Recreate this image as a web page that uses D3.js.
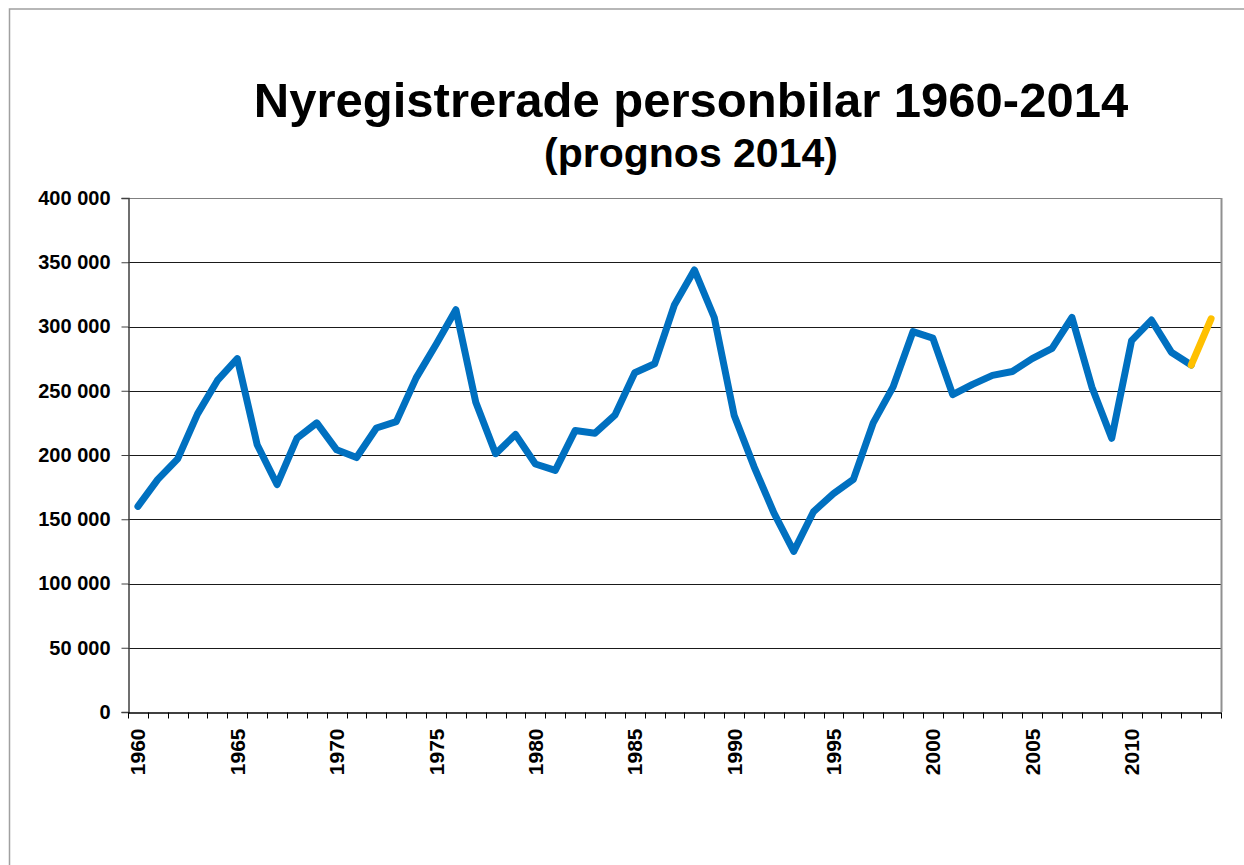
<!DOCTYPE html>
<html>
<head>
<meta charset="utf-8">
<title>Nyregistrerade personbilar 1960-2014</title>
<script src="https://cdn.jsdelivr.net/npm/d3@7"></script>
<style>
	html, body { margin: 0; padding: 0; background: #ffffff; }
	svg { display: block; font-family: "Liberation Sans", Arial, sans-serif; }
</style>
</head>
<body>
<div id="chart"></div>
<script>

// Data (antal nyregistrerade personbilar per år)
var years = d3.range(1960, 2015);
var registrations = [
	160000, 181000, 197000, 232000, 258000, 275000, 208000, 177000, 213000, 225000,
	204000, 198000, 221000, 226000, 260000, 286000, 313000, 241000, 201000, 216000,
	193000, 188000, 219000, 217000, 231000, 264000, 271000, 317000, 344000, 307000,
	231000, 191000, 155000, 125000, 156000, 170000, 181000, 225000, 253000, 296000,
	291000, 247000, 255000, 262000, 265000, 275000, 283000, 307000, 253000, 213000,
	289000, 305000, 280000, 270000
];
var forecastYears = [2013, 2014];
var forecastValues = [270000, 306000];
var yTicks = [0, 50000, 100000, 150000, 200000, 250000, 300000, 350000, 400000];
var labelYears = [1960, 1965, 1970, 1975, 1980, 1985, 1990, 1995, 2000, 2005, 2010];

var chart = {};

(function(){

	// Constants
	chart.width = 1244;
	chart.height = 865;
	chart.plot = { left: 128, right: 1221, top: 198, bottom: 712 };
	chart.blue = "#0070c0";
	chart.orange = "#ffc000";

	var svg = d3.select("#chart").append("svg")
		.attr("width", chart.width)
		.attr("height", chart.height);

	// Outer frame (only top and left edge visible)
	svg.append("rect")
		.attr("x", 9.5)
		.attr("y", 9)
		.attr("width", chart.width + 20)
		.attr("height", chart.height + 20)
		.attr("fill", "#ffffff")
		.attr("stroke", "#a0a0a0")
		.attr("stroke-width", 1.5);

	var x = d3.scaleBand()
		.domain(years)
		.range([chart.plot.left, chart.plot.right]);

	var y = d3.scaleLinear()
		.domain([0, 400000])
		.range([chart.plot.bottom, chart.plot.top]);

	// Titles
	svg.append("text")
		.attr("x", 691)
		.attr("y", 117)
		.attr("text-anchor", "middle")
		.style("font-size", "49px")
		.style("font-weight", "bold")
		.text("Nyregistrerade personbilar 1960-2014");

	svg.append("text")
		.attr("x", 691)
		.attr("y", 167)
		.attr("text-anchor", "middle")
		.style("font-size", "41px")
		.style("font-weight", "bold")
		.text("(prognos 2014)");

	// Horizontal gridlines
	svg.append("g").selectAll("line")
		.data(yTicks.slice(1))
		.enter().append("line")
		.attr("x1", chart.plot.left)
		.attr("x2", chart.plot.right)
		.attr("y1", function(d){ return Math.round(y(d)) + 0.5; })
		.attr("y2", function(d){ return Math.round(y(d)) + 0.5; })
		.attr("stroke", function(d){ return d == 400000 ? "#808080" : "#1a1a1a"; })
		.attr("stroke-width", 1);

	// Right border of plot area
	svg.append("line")
		.attr("x1", chart.plot.right + 0.5)
		.attr("x2", chart.plot.right + 0.5)
		.attr("y1", chart.plot.top)
		.attr("y2", chart.plot.bottom)
		.attr("stroke", "#909090")
		.attr("stroke-width", 2);

	// Y axis
	var yAxis = d3.axisLeft(y)
		.tickValues(yTicks)
		.tickSize(7)
		.tickPadding(11)
		.tickFormat(function(d){
			return d3.format(",")(d).replace(/,/g, " ");
		});

	var gy = svg.append("g")
		.attr("transform", "translate(" + (chart.plot.left + 0.5) + ",0)")
		.call(yAxis);
	gy.select(".domain").attr("stroke", "#404040").attr("stroke-width", 1.5);
	gy.selectAll(".tick line").attr("stroke", "#404040");
	gy.selectAll(".tick text")
		.attr("fill", "#000000")
		.style("font-size", "20px")
		.style("font-weight", "bold")
		.style("font-family", "'Liberation Sans', Arial, sans-serif");

	// X axis: tick marks on category borders, labels every fifth year
	var xAxis = d3.axisBottom(x)
		.tickValues(labelYears)
		.tickSize(0)
		.tickSizeOuter(0);

	var gx = svg.append("g")
		.attr("transform", "translate(0," + (chart.plot.bottom + 0.5) + ")")
		.call(xAxis);
	gx.select(".domain").attr("stroke", "#000000").attr("stroke-width", 1.5);
	gx.selectAll(".tick text")
		.attr("transform", "rotate(-90)")
		.attr("text-anchor", "end")
		.attr("x", -16)
		.attr("y", 0)
		.attr("dy", "0.36em")
		.attr("fill", "#000000")
		.style("font-size", "21px")
		.style("font-weight", "bold")
		.style("font-family", "'Liberation Sans', Arial, sans-serif");

	var borders = years.map(function(d){ return x(d); }).concat([x.range()[1]]);
	gx.append("g").selectAll("line")
		.data(borders)
		.enter().append("line")
		.attr("x1", function(d){ return Math.round(d) + 0.5; })
		.attr("x2", function(d){ return Math.round(d) + 0.5; })
		.attr("y1", 0)
		.attr("y2", 6)
		.attr("stroke", "#000000");

	// Lines
	var line = d3.line()
		.x(function(d){ return x(d[0]) + x.bandwidth() / 2; })
		.y(function(d){ return y(d[1]); });

	var actual = years.slice(0, registrations.length).map(function(d, i){
		return [d, registrations[i]];
	});
	var forecast = forecastYears.map(function(d, i){
		return [d, forecastValues[i]];
	});

	svg.append("path")
		.datum(actual)
		.attr("d", line)
		.attr("fill", "none")
		.attr("stroke", chart.blue)
		.attr("stroke-width", 7)
		.attr("stroke-linejoin", "round")
		.attr("stroke-linecap", "round");

	svg.append("path")
		.datum(forecast)
		.attr("d", line)
		.attr("fill", "none")
		.attr("stroke", chart.orange)
		.attr("stroke-width", 7)
		.attr("stroke-linecap", "round");

})();
</script>
</body>
</html>
